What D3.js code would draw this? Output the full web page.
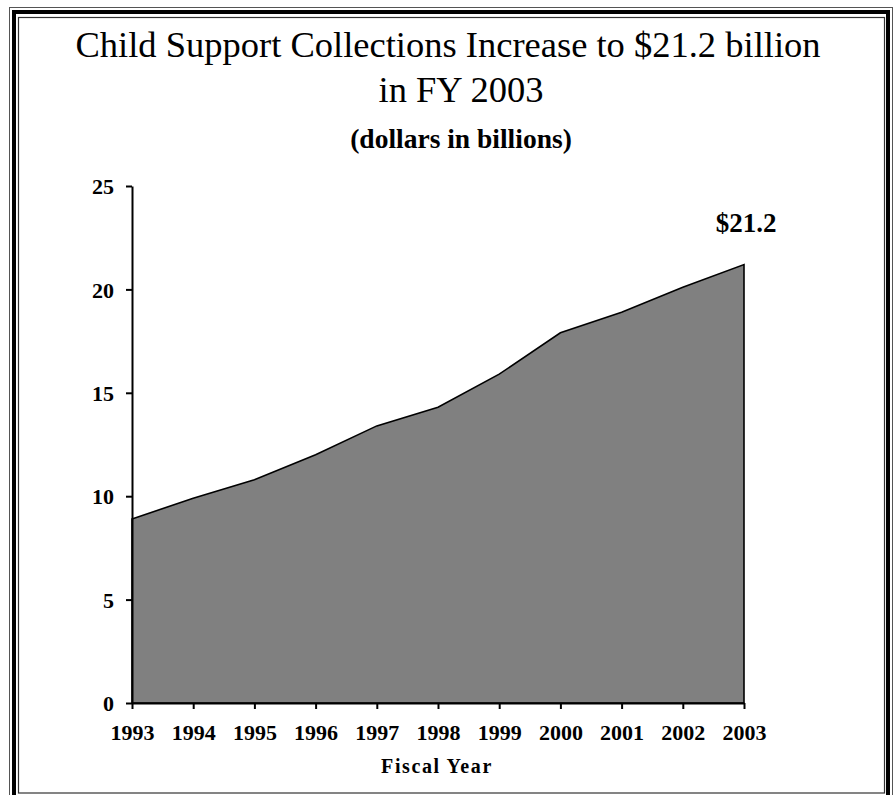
<!DOCTYPE html>
<html>
<head>
<meta charset="utf-8">
<script src="https://cdn.jsdelivr.net/npm/d3@7"></script>
<style>
  body { margin: 0; background: #fff; }
  svg { display: block; }
  text { font-family: "Liberation Serif", "Times New Roman", serif; fill: #000; }
</style>
</head>
<body>
<div id="chart"></div>
<script>
const years = [1993, 1994, 1995, 1996, 1997, 1998, 1999, 2000, 2001, 2002, 2003];
const collections = [8.9, 9.9, 10.8, 12.0, 13.4, 14.3, 15.9, 17.9, 18.9, 20.1, 21.2];
const yTicks = [0, 5, 10, 15, 20, 25];
const titleLines = ["Child Support Collections Increase to $21.2 billion", "in FY 2003"];

const width = 894;
const height = 795;

const svg = d3.select("#chart").append("svg")
    .attr("width", width)
    .attr("height", height);

// frame: thin / thick / thin
svg.append("rect").attr("x", 9.5).attr("y", 7.5).attr("width", 883).attr("height", 800)
    .attr("fill", "none").attr("stroke", "#555").attr("stroke-width", 1);
svg.append("rect").attr("x", 14).attr("y", 12).attr("width", 874).attr("height", 800)
    .attr("fill", "none").attr("stroke", "#000").attr("stroke-width", 4);
svg.append("rect").attr("x", 18.5).attr("y", 17.5).attr("width", 866).attr("height", 775.5)
    .attr("fill", "none").attr("stroke", "#333").attr("stroke-width", 1.2);

const x = d3.scaleLinear().domain([1993, 2003]).range([132, 744]);
const y = d3.scaleLinear().domain([0, 25]).range([703, 186]);

const data = years.map((yr, i) => ({ year: yr, value: collections[i] }));

const area = d3.area()
    .x(d => x(d.year))
    .y0(y(0))
    .y1(d => y(d.value));

svg.append("path")
    .datum(data)
    .attr("d", area)
    .attr("fill", "#808080")
    .attr("stroke", "#000")
    .attr("stroke-width", 1.6)
    .attr("stroke-linejoin", "miter");

const yAxis = svg.append("g")
    .attr("transform", `translate(${x(1993)},0)`)
    .call(d3.axisLeft(y).tickValues(yTicks).tickSize(6).tickSizeOuter(0).tickPadding(12));

const xAxis = svg.append("g")
    .attr("transform", `translate(0,${y(0)})`)
    .call(d3.axisBottom(x).tickValues(years).tickFormat(d3.format("d")).tickSize(6).tickSizeOuter(0).tickPadding(10));

[yAxis, xAxis].forEach(g => {
    g.select(".domain").attr("stroke", "#000").attr("stroke-width", 2);
    g.selectAll(".tick line").attr("stroke", "#000").attr("stroke-width", 2);
    g.selectAll(".tick text")
        .style("font-family", "'Liberation Serif', 'Times New Roman', serif")
        .style("font-weight", "bold")
        .style("font-size", "22px")
        .attr("fill", "#000");
});
yAxis.selectAll(".tick text").attr("dy", "0.35em");
xAxis.selectAll(".tick text").attr("dy", "0.95em");

// title
svg.append("text").attr("x", 448).attr("y", 57)
    .attr("text-anchor", "middle").style("font-size", "36.5px").text(titleLines[0]);
svg.append("text").attr("x", 461).attr("y", 102)
    .attr("text-anchor", "middle").style("font-size", "36.5px").text(titleLines[1]);

svg.append("text").attr("x", 461).attr("y", 148)
    .attr("text-anchor", "middle").style("font-size", "27.5px").style("font-weight", "bold")
    .text("(dollars in billions)");

svg.append("text").attr("x", 437).attr("y", 773)
    .attr("text-anchor", "middle").style("font-size", "20px").style("font-weight", "bold")
    .style("letter-spacing", "1.6px")
    .text("Fiscal Year");

const last = data[data.length - 1];
svg.append("text").attr("x", x(last.year) + 2).attr("y", 232)
    .attr("text-anchor", "middle").style("font-size", "27px").style("font-weight", "bold")
    .text("$" + d3.format(".1f")(last.value));
</script>
</body>
</html>
